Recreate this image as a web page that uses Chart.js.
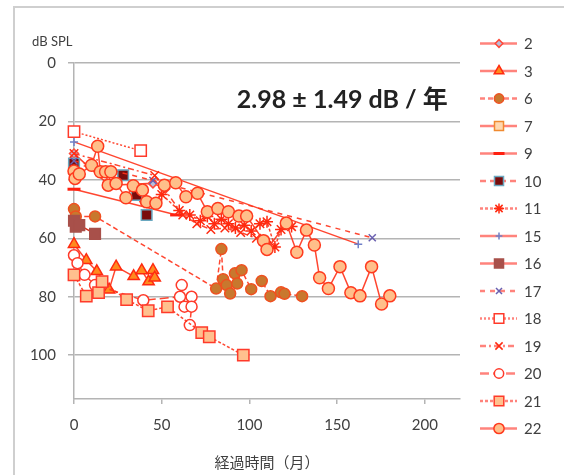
<!DOCTYPE html>
<html lang="ja">
<head>
<meta charset="UTF-8">
<title>聴力の経過</title>
<script src="https://cdn.jsdelivr.net/npm/chart.js@4.4.1/dist/chart.umd.min.js"></script>
<style>
  html, body { margin: 0; padding: 0; background: #fff; }
  #wrap { position: relative; width: 564px; height: 475px; }
</style>
</head>
<body>
<div id="wrap"><canvas id="chart" width="564" height="475"></canvas></div>
<script>
// series names and tick values
const seriesNames = ['2', '3', '6', '7', '9', '10', '11', '15', '16', '17', '18', '19', '20', '21', '22'];
const xTicks = [0, 50, 100, 150, 200];
const yTicks = [0, 20, 40, 60, 80, 100];

// [months, dB SPL]
const s2 = [[0, 31], [20, 41.8], [45, 41.2], [52, 43]];
const s3 = [[0, 62], [7, 67.5], [13, 71.3], [20, 77.6], [24, 69.7], [34, 73], [38.6, 71], [42.5, 74.8], [45, 70.9], [46, 73.5]];
const s6 = [[0, 50], [1, 52.5], [12, 52.5], [81, 77.2], [84, 63.7], [85, 74], [87, 76], [89, 78.9], [91.7, 72], [93, 75.5], [95.5, 70.9], [101, 77.4], [107, 74.6], [112, 79.8], [118, 78.5], [120, 79], [130, 79.8]];
const s7 = [[0, 36], [1, 38]];
const s9 = [[0, 43.2], [58.5, 52]];
const s10 = [[0, 34.4], [28, 38.4], [35.7, 45.2], [41.4, 52]];
const s11 = [[50, 45], [60, 50.5], [66, 52], [72, 54], [76, 52.5], [80, 55], [84, 53.5], [88, 55], [92, 56.5], [97, 55.5], [101, 57.5], [106, 55], [110, 54.3], [114.5, 63], [118, 57], [124, 56]];
const s15 = [[0, 27], [162, 62]];
const s16 = [[0, 54], [1, 56], [3, 55.5], [12, 58.5]];
const s17 = [[0, 33.5], [45, 40.2], [170, 59.8]];
const s18 = [[0, 23.5], [38, 30]];
const s19 = [[0, 31], [46, 38.5], [62, 52], [70, 55], [78, 57], [86, 56.5], [95, 58], [104, 60], [110, 62.5]];
const s20 = [[0, 65.8], [2, 68.5], [6, 72.5], [12, 76], [39.5, 81.2], [60.4, 80], [61.4, 76], [63, 83.4], [67, 80], [67, 83.4], [66, 89.7]];
const s21 = [[0, 72.5], [7, 79.8], [14, 78.6], [16, 74.8], [30, 81], [42.3, 84.8], [53.3, 83.5], [72.8, 92.3], [77.1, 93.7], [96.5, 100]];
const s22 = [[0, 37], [0.6, 39.5], [3, 38], [10, 35], [13.5, 28.5], [15, 37.2], [18, 37.2], [19.5, 41.8], [21, 37.2], [24, 41.2], [29.6, 46.1], [33.8, 42], [39, 43.5], [41.4, 47.5], [46.7, 48], [51.5, 41.8], [58, 41], [63.8, 45.8], [70.4, 44.6], [76, 50.9], [82, 49.8], [88, 50.9], [94, 52.4], [98.4, 52.4], [108, 60.8], [110, 63.8], [121, 54.8], [127, 64.8], [132.5, 57.2], [137, 62.3], [140, 73.5], [145, 77.2], [151.6, 69.7], [157.8, 78.6], [163, 79.7], [169.6, 69.7], [175.3, 82.5], [180, 79.7]];

const seriesData = [s2, s3, s6, s7, s9, s10, s11, s15, s16, s17, s18, s19, s20, s21, s22];

const RED = 'rgba(255,50,25,0.9)';
const TEXT = '#404040';
const FONT = 'Lato, "Noto Sans CJK JP", sans-serif';

// marker / line look of each series, same order as seriesNames
const looks = [
  { ps: 'rectRot', r: 4.5, fill: '#b8bedc', stroke: '#ff4a3a', dash: [] },
  { ps: 'triangle', r: 6.5, fill: '#ff8a1e', stroke: '#ff2a10', dash: [] },
  { ps: 'circle', r: 5.5, fill: '#c8782e', stroke: '#f05020', dash: [5, 3] },
  { ps: 'rect', r: 7.5, fill: '#ffd8b0', stroke: '#f08a30', dash: [] },
  { ps: 'line', r: 6.5, fill: '#ff2010', stroke: '#ff2010', dash: [], bw: 3 },
  { ps: 'rect', r: 7.5, fill: '#7a0c0c', stroke: '#6aa8c0', dash: [6, 4] },
  { ps: 'star', r: 6, fill: '#ff2a10', stroke: '#ff2a10', dash: [3, 2] },
  { ps: 'cross', r: 4, fill: '#7080c8', stroke: '#7080c8', dash: [] },
  { ps: 'rect', r: 7.5, fill: '#a8504a', stroke: '#a8504a', dash: [], line: '#d8301c' },
  { ps: 'crossRot', r: 5, fill: '#6a60b0', stroke: '#6a60b0', dash: [5, 5] },
  { ps: 'rect', r: 8, fill: '#ffffff', stroke: '#ff3a2a', dash: [2, 2] },
  { ps: 'crossRot', r: 6, fill: '#ff2a10', stroke: '#ff2a10', dash: [6, 3, 2, 3] },
  { ps: 'circle', r: 5.5, fill: '#ffffff', stroke: '#ff3a2a', dash: [9, 4] },
  { ps: 'rect', r: 8, fill: '#ffc08e', stroke: '#ff3a2a', dash: [3, 2] },
  { ps: 'circle', r: 6, fill: '#ffbf8a', stroke: '#ff3a1e', dash: [] }
];

const datasets = seriesNames.map((name, i) => {
  const lk = looks[i];
  return {
    label: name,
    data: seriesData[i].map(p => ({ x: p[0], y: p[1] })),
    showLine: true,
    borderColor: lk.line || RED,
    borderWidth: 1.5,
    borderDash: lk.dash,
    pointStyle: lk.ps,
    pointRadius: lk.r,
    pointHoverRadius: lk.r,
    pointBackgroundColor: lk.fill,
    pointBorderColor: lk.stroke,
    pointBorderWidth: lk.bw || 1.5,
    clip: false,
    order: seriesNames.length - i
  };
});

// frame, y title, annotation and legend drawn on top
const extras = {
  id: 'extras',
  afterDraw(chart) {
    const ctx = chart.ctx;
    const xs = chart.scales.x, ys = chart.scales.y;
    ctx.save();
    ctx.strokeStyle = '#cfcfcf';
    ctx.lineWidth = 2;
    ctx.strokeRect(14, 7, 700, 600);

    ctx.fillStyle = TEXT;
    ctx.font = '13px ' + FONT;
    ctx.textBaseline = 'middle';
    ctx.textAlign = 'left';
    ctx.fillText('dB SPL', 32, 42);

    ctx.fillStyle = '#222';
    ctx.font = 'bold 25px ' + FONT;
    ctx.textAlign = 'right';
    ctx.fillText('2.98 ± 1.49 dB / 年', xs.getPixelForValue(213), ys.getPixelForValue(12.7));

    // legend
    ctx.font = '15px ' + FONT;
    ctx.textAlign = 'left';
    chart.data.datasets.forEach((ds, i) => {
      const y = 43.5 + i * 27.5;
      ctx.strokeStyle = 'rgba(255,90,80,0.75)';
      ctx.lineWidth = 2.5;
      ctx.setLineDash(ds.borderDash);
      ctx.beginPath();
      ctx.moveTo(480, y);
      ctx.lineTo(517, y);
      ctx.stroke();
      ctx.setLineDash([]);
      ctx.fillStyle = ds.pointBackgroundColor;
      ctx.strokeStyle = ds.pointBorderColor;
      ctx.lineWidth = ds.pointBorderWidth;
      Chart.helpers.drawPoint(ctx, {
        pointStyle: ds.pointStyle, radius: ds.pointRadius * 0.85,
        rotation: 0, borderWidth: ds.pointBorderWidth
      }, 499, y);
      ctx.fillStyle = TEXT;
      ctx.fillText(ds.label, 524, y + 1);
    });
    ctx.restore();
  }
};

new Chart(document.getElementById('chart'), {
  type: 'scatter',
  data: { datasets },
  options: {
    responsive: false,
    animation: false,
    layout: { padding: { left: 0, top: 63, right: 104, bottom: 0 } },
    plugins: { legend: { display: false }, tooltip: { enabled: false } },
    scales: {
      x: {
        type: 'linear', min: 0, max: 220,
        afterBuildTicks: axis => { axis.ticks = xTicks.map(v => ({ value: v })); },
        afterFit: scale => { scale.height = 76; },
        grid: { drawOnChartArea: false, drawTicks: true, tickLength: 5, color: '#b4b4b4', lineWidth: 1.5 },
        border: { display: true, color: '#b4b4b4', width: 1.5 },
        ticks: { color: TEXT, font: { family: FONT, size: 15 }, padding: 12, maxRotation: 0 },
        title: {
          display: true, text: '経過時間（月）', color: TEXT,
          font: { family: FONT, size: 15 }, padding: { top: 0, bottom: 3 }
        }
      },
      y: {
        type: 'linear', min: 0, max: 115, reverse: true,
        afterBuildTicks: axis => { axis.ticks = yTicks.map(v => ({ value: v })); },
        afterFit: scale => { scale.width = 74; },
        grid: { color: '#b4b4b4', lineWidth: 1.5, tickLength: 6 },
        border: { display: true, color: '#b4b4b4', width: 1.5 },
        ticks: { color: TEXT, font: { family: FONT, size: 15 }, padding: 12 }
      }
    }
  },
  plugins: [extras]
});
</script>
</body>
</html>
